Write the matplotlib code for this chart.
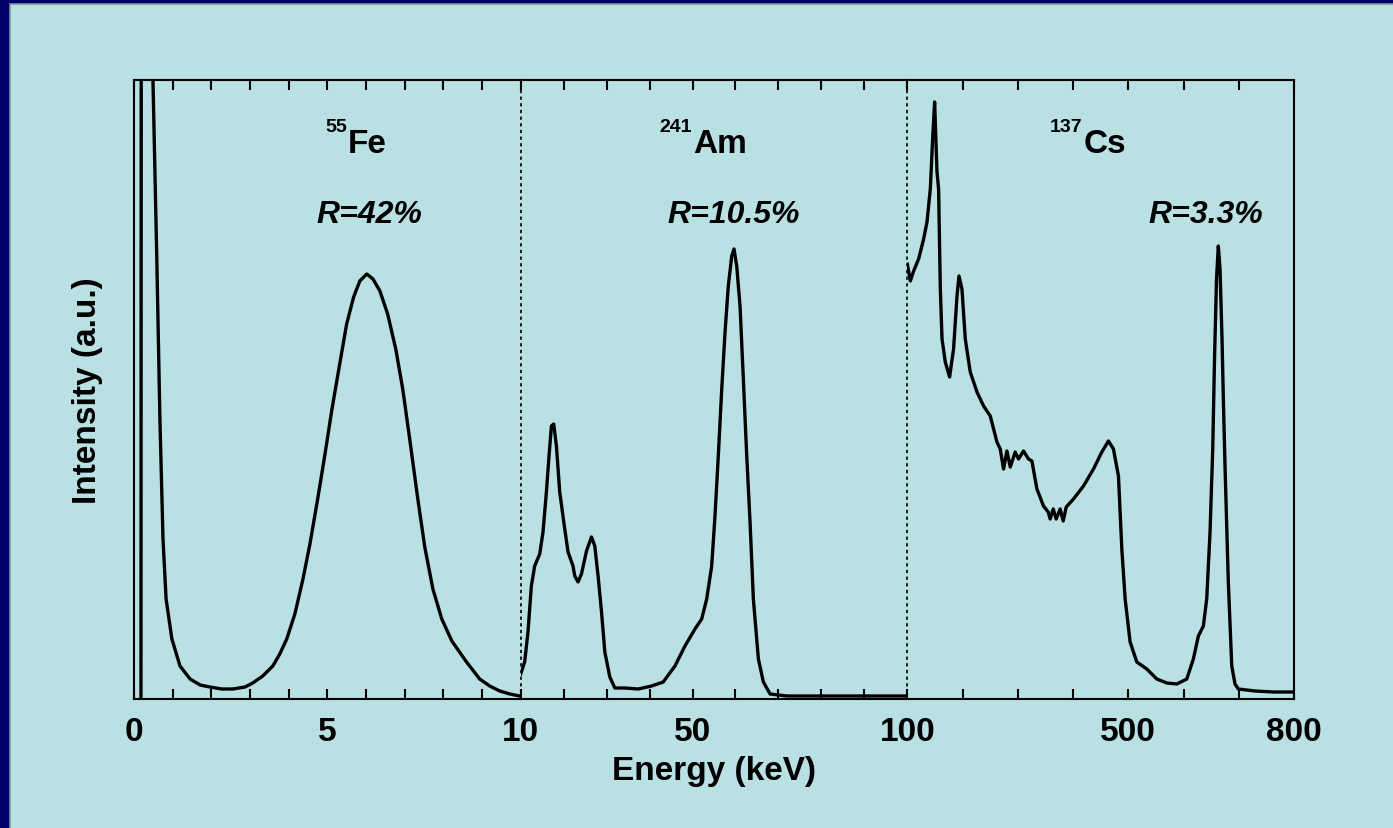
import numpy as np
import matplotlib.pyplot as plt
from matplotlib.patches import Rectangle
from matplotlib.lines import Line2D

plt.rcParams['font.family'] = ['Liberation Sans', 'DejaVu Sans']
plt.rcParams['font.weight'] = 'bold'

BG = '#b9e0e3'
NAVY = '#00006b'

# 55Fe spectrum (energy in keV, intensity in a.u.)
fe_kev = [0.18, 0.19, 0.44, 0.49, 0.59, 0.67, 0.75, 0.83, 0.98, 1.19,
          1.45, 1.71, 1.96, 2.27, 2.56, 2.87, 3.07, 3.33, 3.59, 3.77,
          3.95, 4.16, 4.37, 4.55, 4.75, 4.94, 5.12, 5.32, 5.50, 5.68,
          5.84, 6.02, 6.18, 6.36, 6.56, 6.77, 6.95, 7.13, 7.34, 7.52,
          7.73, 7.96, 8.22, 8.60, 8.94, 9.20, 9.46, 9.72, 9.97]
fe_int = [0, 900, 900, 619, 440, 280, 160, 100, 60, 33,
          20, 14, 12, 10, 10, 12, 16, 23, 33, 45,
          60, 85, 120, 155, 200, 245, 290, 335, 375, 402,
          418, 425, 420, 408, 385, 350, 310, 260, 200, 152,
          110, 80, 58, 37, 20, 13, 8, 5, 3]

# 241Am spectrum
am_kev = [10.0, 10.93, 11.70, 12.49, 13.26, 14.43, 15.20, 15.99, 16.60,
          17.16, 17.69, 18.32, 19.09, 20.26, 21.03, 22.19, 22.59, 23.36, 24.15,
          25.32, 26.48, 27.25, 28.02, 28.82, 29.59, 30.75, 31.92, 34.25, 37.35,
          40.47, 43.18, 45.91, 48.24, 50.57, 52.13, 53.30, 54.46, 55.23, 56.00,
          56.80, 57.57, 58.33, 59.13, 59.66, 60.29, 61.06, 61.83, 62.62, 63.39,
          64.16, 65.33, 66.49, 68.06, 71.95, 82.74, 91.37, 99.76]
am_int = [25, 37, 67, 113, 133, 145, 167, 207, 243,
          273, 275, 253, 207, 170, 147, 133, 123, 117, 125,
          148, 162, 153, 123, 87, 47, 22, 11, 11, 10,
          13, 17, 33, 53, 70, 80, 100, 133, 183, 243,
          310, 367, 413, 443, 450, 433, 393, 320, 243, 177,
          100, 40, 17, 5, 3, 3, 3, 3]

# 137Cs spectrum
cs_kev = [100, 105.4, 111.4, 120.4, 129.5, 135.6, 141.6, 145.8, 149.4, 153.7,
          156.6, 159.7, 162.8, 168.7, 176.5, 183.7, 189.9, 193.5, 198.9, 204.9,
          213.9, 226.1, 238.0, 250.1, 262.2, 268.2, 274.2, 280.3, 286.3, 295.3,
          301.3, 310.3, 319.4, 325.5, 334.6, 346.5, 355.0, 358.6, 364.1, 369.5,
          376.7, 382.2, 387.6, 400.8, 418.9, 437.0, 452.1, 464.1, 473.1, 482.2,
          488.3, 494.3, 503.3, 515.4, 533.5, 551.6, 569.7, 587.8, 605.9, 617.8,
          626.9, 635.9, 642.0, 648.0, 652.9, 656.1, 659.7, 663.0, 666.1, 669.7,
          672.1, 675.1, 681.1, 687.3, 693.2, 699.2, 729.4, 762.5, 798.7]
cs_int = [435, 418, 428, 440, 460, 477, 510, 560, 597, 527,
          510, 410, 360, 337, 322, 350, 403, 423, 410, 360,
          327, 307, 293, 283, 257, 250, 230, 248, 232, 247,
          240, 248, 240, 238, 210, 193, 187, 180, 190, 180,
          190, 178, 192, 200, 213, 230, 247, 258, 250, 223,
          150, 100, 57, 37, 30, 20, 16, 15, 20, 40,
          63, 73, 100, 167, 250, 340, 420, 453, 430, 360,
          300, 233, 117, 33, 15, 10, 8, 7, 7]

segments = [
    (fe_kev, fe_int, (0, 10), np.arange(0, 11, 1), {0: '0', 5: '5'}),
    (am_kev, am_int, (10, 100), np.arange(10, 101, 10), {10: '10', 50: '50'}),
    (cs_kev, cs_int, (100, 800), np.arange(100, 801, 100), {100: '100', 500: '500', 800: '800'}),
]
isotopes = [('55', 'Fe', 'R=42%'), ('241', 'Am', 'R=10.5%'), ('137', 'Cs', 'R=3.3%')]
# label anchors in axes fraction: superscript right edge, symbol left edge, resolution left edge
label_pos = [(0.550, 0.553, 0.473), (0.443, 0.446, 0.380), (0.452, 0.455, 0.623)]

fig, axes = plt.subplots(1, 3, sharey=True, figsize=(13.93, 8.29), dpi=100)
fig.patch.set_facecolor(NAVY)
fig.add_artist(Rectangle((10 / 1393, 0), 1 - 10 / 1393, 1 - 5 / 829,
                         transform=fig.transFigure, facecolor=BG,
                         edgecolor='none', zorder=-10))
# thin grey rim along the inner edge of the frame
fig.add_artist(Line2D([9.5 / 1393, 9.5 / 1393, 1], [0, 1 - 4.5 / 829, 1 - 4.5 / 829],
                      transform=fig.transFigure, color='#7d959c', lw=1.2, zorder=-9))
fig.subplots_adjust(left=134 / 1393, right=1294 / 1393,
                    bottom=129 / 829, top=748 / 829, wspace=0)

for i, (ax, (x, y, lim, ticks, labels)) in enumerate(zip(axes, segments)):
    ax.set_facecolor(BG)
    ax.plot(x, y, color='k', lw=2.4, solid_joinstyle='round')
    ax.set_xlim(*lim)
    ax.set_ylim(0, 619)
    ax.set_xticks(ticks)
    ax.set_xticklabels([labels.get(int(t), '') for t in ticks])
    ax.tick_params(axis='x', direction='in', top=True, length=7, width=1.5,
                   labelsize=24, pad=12)
    ax.tick_params(axis='y', left=False, right=False, labelleft=False)
    for s in ax.spines.values():
        s.set_linewidth(1.5)
    if i > 0:
        ax.spines['left'].set_linestyle((0, (1, 3)))
        ax.spines['left'].set_linewidth(1.2)
    if i < 2:
        ax.spines['right'].set_visible(False)

    sup, sym, res = isotopes[i]
    xs, xm, xr = label_pos[i]
    ax.text(xs, 0.918, sup, transform=ax.transAxes, ha='right', va='baseline',
            fontsize=14, fontweight='bold')
    ax.text(xm, 0.884, sym, transform=ax.transAxes, ha='left', va='baseline',
            fontsize=24, fontweight='bold')
    ax.text(xr, 0.771, res, transform=ax.transAxes, ha='left', va='baseline',
            fontsize=23, fontweight='bold', fontstyle='italic')

axes[0].set_ylabel('Intensity (a.u.)', fontsize=24, fontweight='bold', labelpad=22)
axes[1].set_xlabel('Energy (keV)', fontsize=24, fontweight='bold', labelpad=6)

fig.savefig('out.png', dpi=100, facecolor=fig.get_facecolor())
